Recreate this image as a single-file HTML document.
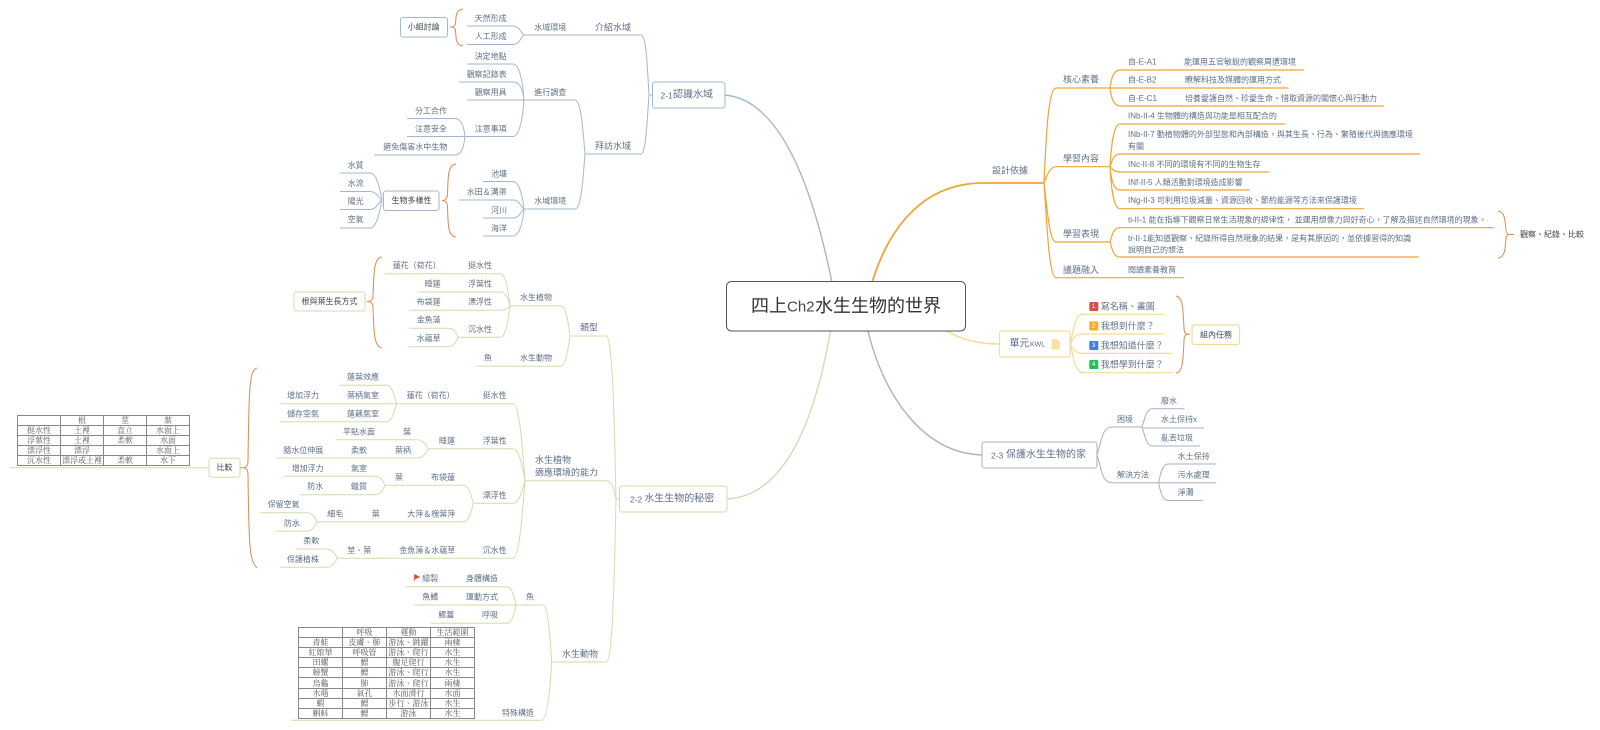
<!DOCTYPE html>
<html lang="zh-Hant"><head><meta charset="utf-8"><title>四上Ch2水生生物的世界</title>
<style>
html,body{margin:0;padding:0;background:#fff;width:1600px;height:730px;overflow:hidden}
#w{position:relative;width:1600px;height:730px;filter:blur(.35px)}
svg{position:absolute;left:0;top:0}
svg text{font-family:"Liberation Sans","Noto Sans CJK TC",sans-serif;font-size:8px;fill:#5f6f86;dominant-baseline:central}
svg path{fill:none}
.m{font-size:9px}.n{font-size:10px}.d{fill:#3f4650}.s{font-size:8.500px}.k{font-size:7px}
table{position:absolute;border-collapse:collapse;table-layout:fixed;font-family:"Liberation Serif","Noto Serif CJK TC",serif;font-size:8px;color:#555;background:#fff}
td{border:1px solid #888;padding:0;text-align:center;height:9.1px;line-height:9px;overflow:hidden;white-space:nowrap}
</style></head><body><div id="w">
<svg width="1600" height="730" viewBox="0 0 1600 730">
<!-- blue -->
<g stroke="#a3b6cf" stroke-width="1">
<path stroke-width="1.4" d="M725 95C780 100 812 185 831.700 281"/>
<path d="M524 35H641C646 35 647 60 649 95H652M585 154H641C646 154 647 120 649 95"/>
<path d="M467 26H513C520 26 522 35 524 35M467 44.5H513C520 44.5 522 35 524 35"/>
<path d="M467 100H575C581 100 583 130 585 154M524 209H575C581 209 583 180 585 154"/>
<path d="M467 64H513C520 64 523 85 524 100M459 82H513C520 82 523 90 524 100M407 136.5H513C520 136.5 523 115 524 100"/>
<path d="M407 118.5H455C462 118.5 464 128 465 136.5M374 155H455C462 155 464 146 465 136.5"/>
<path d="M483 181.5H513C520 181.5 523 200 524 209M459 200H513C520 200 522 209 524 209M483 218H513C520 218 522 209 524 209M483 236H513C520 236 523 220 524 209"/>
<path d="M340 173H370C377 173 380 190 382 200M340 191.5H370C377 191.5 380 200 382 200M340 209.5H370C377 209.5 380 200 382 200M340 228H370C377 228 380 210 382 200"/>
<rect x="652.5" y="82" width="72.5" height="26" rx="2.5" fill="#fff"/>
<rect x="400.5" y="17.5" width="47" height="19.5" rx="2.5" fill="#fff"/>
<rect x="383.5" y="191" width="55.5" height="19.5" rx="2.5" fill="#fff"/>
</g>
<g stroke="#dc8a52" stroke-width="1">
<path d="M463 9C456 10 456 15 455.5 24C455 26 454 27 450 27C454 27 455 28 455.5 30C456 40 456 45 463 46"/>
<path d="M456 164C448 165 448 175 447.5 195C447 198 446 200.500 442 200.500C446 200.500 447 203 447.500 206C448 226 448 236 456 237"/>
<path d="M382 257C374 258 374 270 373 295C373 299 372 301.500 367 301.500C372 301.500 373 304 373 308C374 335 374 346 382 348"/>
<path d="M257 368C249 370 249 390 248 460C248 465 247 467.700 243 467.700C247 467.700 248 470 248 476C249 545 249 560 257 568"/>
<path d="M1498 211C1505 212 1505 220 1506 230C1506 233 1507 234.500 1510 234.500H1514M1510 234.500C1507 234.500 1506 236 1506 239C1505 250 1505 257 1498 258"/>
<path d="M1176 296C1183 297 1183 310 1184 328C1184 332 1185 334.300 1188 334.300H1190M1188 334.300C1185 334.300 1184 337 1184 341C1183 360 1183 372 1176 373.300"/>
</g>
<g>
<text x="660.500" y="95.500" class="s">2-1</text><text x="673" y="95" class="n">認識水域</text>
<text x="595" y="27.500" class="m">介紹水域</text><text x="595" y="146" class="m">拜訪水域</text>
<text x="534.300" y="27.700">水域環境</text><text x="534.300" y="92.300">進行調查</text><text x="534.300" y="201">水域環境</text>
<text x="474.700" y="18.700">天然形成</text><text x="474.700" y="36.700">人工形成</text><text x="474.700" y="56.700">決定地點</text><text x="466.700" y="74.700">觀察記錄表</text><text x="474.700" y="92.700">觀察用具</text><text x="474.700" y="129">注意事項</text>
<text x="415" y="111">分工合作</text><text x="415" y="129">注意安全</text><text x="383.300" y="147">避免傷害水中生物</text>
<text x="491" y="174">池塘</text><text x="466.700" y="192">水田＆溝渠</text><text x="491" y="210.300">河川</text><text x="491" y="228.300">海洋</text>
<text x="347.700" y="165.300">水質</text><text x="347.700" y="183.300">水流</text><text x="347.700" y="201.700">陽光</text><text x="347.700" y="219.700">空氣</text>
<text x="407.700" y="27.200" class="d">小組討論</text><text x="391.500" y="200.700" class="d">生物多樣性</text>
</g>
<!-- orange right -->
<g stroke="#f0a436" stroke-width="1.2">
<path stroke-width="1.8" d="M872.500 281C890 225 925 183 983 183H1044"/>
<path d="M1044 183C1046 140 1048 88 1056 88H1110M1044 183C1047 175 1050 166.700 1056 166.700H1110M1044 183C1047 205 1049 242 1056 242H1110M1044 183C1047 225 1049 277.700 1056 277.700H1184"/>
<path d="M1120 70H1304M1110 88H1288.500M1120 106H1384M1120 70C1113 70 1111 80 1110 88C1111 96 1113 106 1120 106"/>
<path d="M1120 124H1285M1120 154H1420M1120 172H1269M1120 190H1250M1120 208.700H1364"/>
<path d="M1120 124C1113 124 1111 150 1110 166.700M1120 154C1113 154 1112 162 1110 166.700M1120 172C1113 172 1112 168 1110 166.700M1120 190C1113 190 1111 178 1110 166.700M1120 208.700C1113 208.700 1111 185 1110 166.700"/>
<path d="M1120 227.700H1494M1120 257H1419M1120 227.700C1113 227.700 1112 236 1110 242C1112 248 1113 257 1120 257"/>
</g>
<g>
<text x="992" y="170.500" class="m">設計依據</text>
<text x="1063" y="79.500" class="m">核心素養</text><text x="1063" y="158.300" class="m">學習內容</text><text x="1063" y="234" class="m">學習表現</text><text x="1063" y="270" class="m">議題融入</text>
<text x="1128" y="62">自-E-A1</text><text x="1184" y="62">能運用五官敏銳的觀察周遭環境</text>
<text x="1128" y="80">自-E-B2</text><text x="1185" y="80">瞭解科技及媒體的運用方式</text>
<text x="1128" y="98.500">自-E-C1</text><text x="1185" y="98.500">培養愛護自然、珍愛生命、惜取資源的關懷心與行動力</text>
<text x="1128" y="116">INb-II-4 生物體的構造與功能是相互配合的</text>
<text x="1128" y="134.500">INb-II-7 動植物體的外部型態和內部構造，與其生長、行為、繁殖後代與適應環境</text><text x="1128" y="146.500">有關</text>
<text x="1128" y="164.500">INc-II-8 不同的環境有不同的生物生存</text>
<text x="1128" y="182.500">INf-II-5 人類活動對環境造成影響</text>
<text x="1128" y="200.500">INg-II-3 可利用垃圾減量、資源回收、節約能源等方法來保護環境</text>
<text x="1128" y="220">ti-II-1 能在指導下觀察日常生活現象的規律性， 並運用想像力與好奇心，了解及描述自然環境的現象。</text>
<text x="1128" y="238.500">tr-II-1能知道觀察、紀錄所得自然現象的結果，是有其原因的，並依據習得的知識</text><text x="1128" y="250">說明自己的想法</text>
<text x="1128" y="270">閱讀素養教育</text>
<text x="1520" y="234.500" class="d">觀察、紀錄、比較</text>
</g>
<!-- yellow -->
<g stroke="#f5dc94" stroke-width="1.2">
<path stroke-width="1.5" d="M945 330C958 338 975 344 999 344"/>
<path d="M1080 314.300H1164M1080 334H1164M1080 353.300H1173M1080 372.700H1173"/>
<path d="M1070 344C1073 335 1074 314.300 1083 314.300M1070 344C1073 340 1074 334 1083 334M1070 344C1073 348 1074 353.300 1083 353.300M1070 344C1073 353 1074 372.700 1083 372.700"/>
<rect x="999.500" y="331" width="70.500" height="26" rx="2.500" fill="#fff"/>
<rect x="1192" y="325" width="47.500" height="19.500" rx="2.500" fill="#fff"/>
</g>
<text x="1009.500" y="344" class="n">單元</text><text x="1030" y="345" class="k">KWL</text>
<path d="M1052 339.500h5l2.500 2.500v7h-7.500z" style="fill:#f8e3a0" stroke="#f3d67f" stroke-width=".5"/>
<text x="1200" y="335" class="d">組內任務</text>
<g>
<rect x="1089.300" y="302" width="9" height="9" rx="1" fill="#e04b4b"/><rect x="1089.300" y="321.500" width="9" height="9" rx="1" fill="#f6ae25"/><rect x="1089.300" y="341" width="9" height="9" rx="1" fill="#3d80e0"/><rect x="1089.300" y="360" width="9" height="9" rx="1" fill="#1fc254"/>
<text x="1091.700" y="306.700" style="fill:#fff;font-size:6.500px">1</text><text x="1091.700" y="326" style="fill:#fff;font-size:6.500px">2</text><text x="1091.700" y="345.500" style="fill:#fff;font-size:6.500px">3</text><text x="1091.700" y="364.500" style="fill:#fff;font-size:6.500px">4</text>
<text x="1100.700" y="306.700" class="m">寫名稱、畫圖</text><text x="1100.700" y="326" class="m">我想到什麼？</text><text x="1100.700" y="345.300" class="m">我想知道什麼？</text><text x="1100.700" y="364.700" class="m">我想學到什麼？</text>
</g>
<!-- purple -->
<g stroke="#aeaec6" stroke-width="1">
<path stroke-width="1.4" d="M867.700 330C885 400 925 453 982 455"/>
<path d="M1097 455C1101 445 1101 427 1112 427H1142M1097 455C1101 465 1101 482.700 1112 482.700H1158.600"/>
<path d="M1152 408.700H1184.500M1142 428H1204M1152 446H1200M1142 427C1144 422 1146 408.700 1152 408.700M1142 427C1144 432 1146 446 1152 446"/>
<path d="M1168 464H1216M1158.600 482.700H1216M1168 500.500H1203M1158.600 482.700C1160 476 1162 464 1168 464M1158.600 482.700C1160 490 1162 500.500 1168 500.500"/>
<rect x="982" y="442" width="115" height="26" rx="2.500" fill="#fff"/>
</g>
<text x="991" y="455.500" class="s">2-3</text><text x="1006" y="455" class="n">保護水生生物的家</text>
<text x="1117" y="419.700">困境</text><text x="1117" y="475">解決方法</text>
<text x="1161" y="401">廢水</text><text x="1161" y="419.700">水土保持x</text><text x="1161" y="438">亂丟垃圾</text>
<text x="1177.600" y="456.700">水土保持</text><text x="1177.600" y="475">污水處理</text><text x="1177.600" y="492.700">淨灘</text>
<!-- green -->
<g stroke="#d3dbae" stroke-width="1">
<path stroke-width="1.4" d="M830.700 330C815 420 785 497 726 499"/>
<path d="M570 336H606C612 336 614 400 616 499H619M525 480.700H606C612 480.700 614 490 616 499M551.700 662H606C612 662 614 600 616 499"/>
<path d="M510 305.700H560C566 305.700 568 320 570 336M476.700 366.300H560C566 366.300 568 350 570 336"/>
<path d="M385 273.700H500C506 273.700 508 290 510 305.700M417 292H500C506 292 508 298 510 305.700M409 310.300H500C506 310.300 508 308 510 305.700M458 337.300H500C506 337.300 508 320 510 305.700"/>
<path d="M409 328.300H448C454 328.300 456 332 458 337.300M409 346.700H448C454 346.700 456 342 458 337.300"/>
<path d="M396.700 403.700H513C519 403.700 522 440 525 480.700M428.300 448.700H513C519 448.700 522 465 525 480.700M473.300 503.300H513C519 503.300 522 492 525 480.700M337.300 558.300H513C519 558.300 522 520 525 480.700"/>
<path d="M339.300 385.300H386.700C392 385.300 394 395 396.700 403.700M280 403.700H396.700M280 421.700H386.700C392 421.700 394 412 396.700 403.700"/>
<path d="M336 439.700H416.700C423 439.700 426 445 428.300 448.700M276 458H416.700C423 458 426 453 428.300 448.700"/>
<path d="M385 485.300H463.300C469 485.300 471 495 473.300 503.300M317.300 521.700H463.300C469 521.700 471 512 473.300 503.300"/>
<path d="M284 476.300H375C381 476.300 383 481 385 485.300M300 494.700H375C381 494.700 383 490 385 485.300"/>
<path d="M260 512.700H306.700C312 512.700 315 517 317.300 521.700M276 531.300H306.700C312 531.300 315 526 317.300 521.700"/>
<path d="M296 549H327C332 549 335 553 337.300 558.300M280 567.300H327C332 567.300 335 563 337.300 558.300"/>
<path d="M516 605H543C548 605 550 635 551.700 662M291 720.300H541.700C547 720.300 550 690 551.700 662"/>
<path d="M405.700 586.700H506.700C512 586.700 514 596 516 605M414.300 605H516M430.700 623.300H506.700C512 623.300 514 614 516 605"/>
<path d="M9.300 467.700H209"/>
<rect x="619.500" y="486" width="107.500" height="26" rx="2.500" fill="#fff"/>
<rect x="209" y="458.300" width="31" height="19" rx="2.500" fill="#fff"/>
<rect x="294" y="292" width="71" height="19" rx="2.500" fill="#fff"/>
</g>
<path d="M240 467.700H243" stroke="#dc8a52"/>
<g>
<text x="630" y="499.500" class="s">2-2</text><text x="644.300" y="499" class="n">水生生物的秘密</text>
<text x="589" y="327.700" class="m" text-anchor="middle">類型</text>
<text x="535" y="460" class="m">水生植物</text><text x="535" y="472.700" class="m">適應環境的能力</text>
<text x="562" y="654" class="m">水生動物</text>
<text x="520" y="297.700">水生植物</text><text x="520" y="358">水生動物</text><text x="484" y="358">魚</text>
<text x="468" y="265.700">挺水性</text><text x="392.700" y="265.700">蓮花（荷花）</text>
<text x="468" y="284">浮葉性</text><text x="424.700" y="284">睡蓮</text>
<text x="468" y="302">漂浮性</text><text x="416.700" y="302">布袋蓮</text>
<text x="468" y="329.700">沉水性</text><text x="416.700" y="320">金魚藻</text><text x="416.700" y="338.700">水蘊草</text>
<text x="301.500" y="301.700" class="d">根與葉生長方式</text>
<text x="216.500" y="467.700" class="d">比較</text>
<text x="482.700" y="395.300">挺水性</text><text x="406.700" y="395.300">蓮花（荷花）</text>
<text x="347" y="377">蓮葉效應</text><text x="347" y="395.300">葉柄氣室</text><text x="287" y="395.700">增加浮力</text><text x="347" y="414">蓮藕氣室</text><text x="287" y="414">儲存空氣</text>
<text x="482.700" y="441">浮葉性</text><text x="439" y="441">睡蓮</text>
<text x="343" y="432">平貼水面</text><text x="403" y="432">葉</text><text x="283.300" y="450.300">隨水位伸展</text><text x="351" y="450.300">柔軟</text><text x="395" y="450.300">葉柄</text>
<text x="482.700" y="495.700">漂浮性</text><text x="431" y="477.700">布袋蓮</text><text x="395" y="477.700">葉</text>
<text x="291.700" y="468.700">增加浮力</text><text x="351" y="468.700">氣室</text><text x="307.300" y="486.700">防水</text><text x="351" y="486.700">蠟質</text>
<text x="407.300" y="514">大萍＆槐葉萍</text><text x="371.700" y="514">葉</text><text x="327.300" y="514">細毛</text>
<text x="267.700" y="504.700">保留空氣</text><text x="284" y="523.300">防水</text>
<text x="482.700" y="550.300">沉水性</text><text x="399.300" y="550.300">金魚藻＆水蘊草</text><text x="347.300" y="550.300">莖、葉</text>
<text x="303.300" y="541">柔軟</text><text x="287" y="559.700">保護植株</text>
<text x="526" y="597">魚</text><text x="502" y="713">特殊構造</text>
<path d="M414.500 581V574.500L419.500 577L415 579" style="fill:#e0453f" stroke="#e0453f" stroke-width=".6"/>
<text x="422.300" y="578.700">繪製</text><text x="466" y="578.700">身體構造</text>
<text x="422.300" y="597">魚鰭</text><text x="466" y="597">運動方式</text>
<text x="438.300" y="615">鰓蓋</text><text x="482" y="615">呼吸</text>
</g>
<!-- root -->
<rect x="726.500" y="281.500" width="239" height="49.500" rx="5" fill="#fff" stroke="#555" stroke-width="1"/>
<text x="751" y="306" style="font-size:18px;fill:#333">四上</text><text x="787" y="307" style="font-size:15px;fill:#444">Ch2</text><text x="815" y="306" style="font-size:18px;fill:#333">水生生物的世界</text>
</svg>
<table style="left:17px;top:415px;width:172px"><colgroup><col style="width:43px"><col style="width:43px"><col style="width:43px"><col style="width:43px"></colgroup>
<tr><td></td><td>根</td><td>莖</td><td>葉</td></tr>
<tr><td>挺水性</td><td>土裡</td><td>直立</td><td>水面上</td></tr>
<tr><td>浮葉性</td><td>土裡</td><td>柔軟</td><td>水面</td></tr>
<tr><td>漂浮性</td><td>漂浮</td><td></td><td>水面上</td></tr>
<tr><td>沉水性</td><td>漂浮或土裡</td><td>柔軟</td><td>水下</td></tr>
</table>
<table style="left:298px;top:627px;width:176px"><colgroup><col style="width:44px"><col style="width:44px"><col style="width:44px"><col style="width:44px"></colgroup>
<tr><td></td><td>呼吸</td><td>運動</td><td>生活範圍</td></tr>
<tr><td>青蛙</td><td>皮膚、肺</td><td>游泳、跳躍</td><td>兩棲</td></tr>
<tr><td>紅娘華</td><td>呼吸管</td><td>游泳、爬行</td><td>水生</td></tr>
<tr><td>田螺</td><td>鰓</td><td>腹足爬行</td><td>水生</td></tr>
<tr><td>螃蟹</td><td>鰓</td><td>游泳、爬行</td><td>水生</td></tr>
<tr><td>烏龜</td><td>肺</td><td>游泳、爬行</td><td>兩棲</td></tr>
<tr><td>水黽</td><td>氣孔</td><td>水面滑行</td><td>水面</td></tr>
<tr><td>蝦</td><td>鰓</td><td>步行、游泳</td><td>水生</td></tr>
<tr><td>蝌蚪</td><td>鰓</td><td>游泳</td><td>水生</td></tr>
</table>
</div></body></html>
